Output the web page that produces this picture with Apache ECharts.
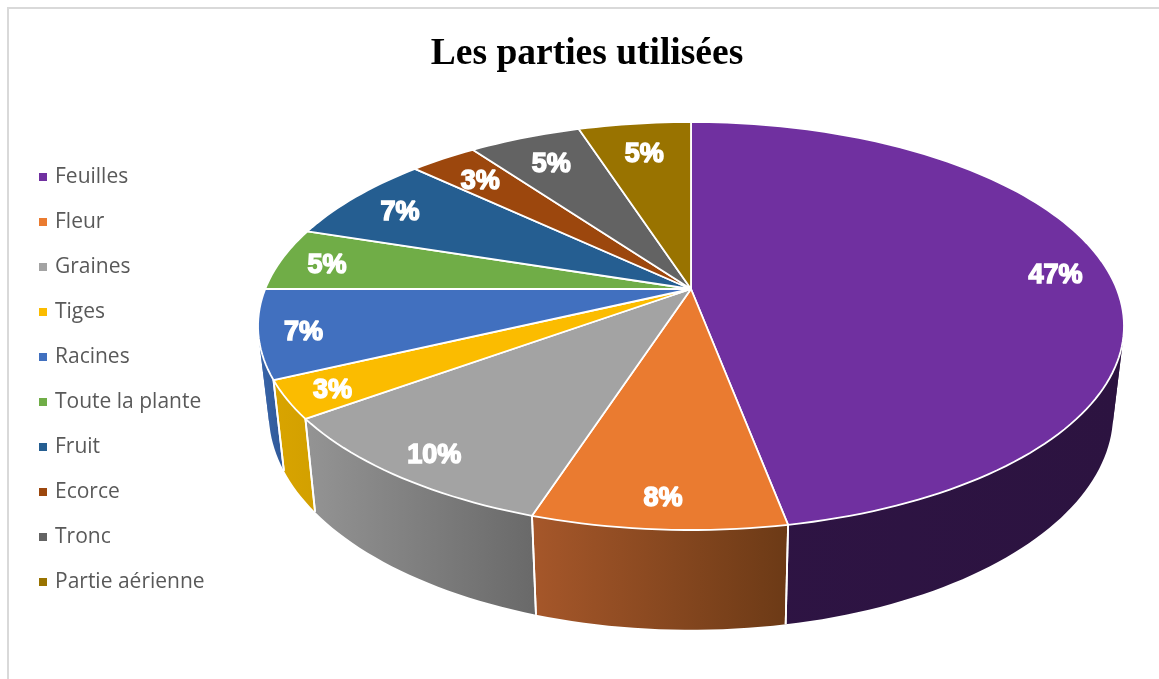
<!DOCTYPE html>
<html lang="fr">
<head>
<meta charset="utf-8">
<title>Les parties utilisées</title>
<style>
  html, body { margin: 0; padding: 0; background: #ffffff; }
  #chart { width: 1159px; height: 679px; }
</style>
<script src="https://cdn.jsdelivr.net/npm/echarts@6/dist/echarts.min.js"></script>
</head>
<body>
<div id="chart"></div>
<script>
// Parts of the plant and their share of uses, in percent.
const categories = ['Feuilles', 'Fleur', 'Graines', 'Tiges', 'Racines', 'Toute la plante', 'Fruit', 'Ecorce', 'Tronc', 'Partie aérienne'];
const shares = [47, 8, 10, 3, 7, 5, 7, 3, 5, 5];
const topColors = ['#7030a0', '#ea7b30', '#a3a3a3', '#fbbc00', '#4170bf', '#70ad47', '#255e91', '#9c470d', '#636363', '#997300'];
// Side-wall shading, left to right as seen by the viewer.
const wallStart = ['#2e1444', '#a6572a', '#949494', '#d9a400', '#3a66aa', '#4e7a31', '#1a4366', '#6e3209', '#464646', '#6b5100'];
const wallEnd = ['#2c1340', '#6c3a16', '#696969', '#d2a000', '#2f5898', '#4e7a31', '#1a4366', '#6e3209', '#464646', '#6b5100'];

// Projection of the tilted disc: unit circle to screen, with the near edge enlarged.
const disc = { cx: 691, cy: 289, a: 425.8, b: 197.3, k: 0.1814 };
// The lower face sits under the upper one, slightly narrower and stretched downwards.
const base = { xScale: 0.975, yScale: 1.06, yShift: 68 };
const arcStep = 0.004;

const total = shares.reduce((s, v) => s + v, 0);
const starts = [];
shares.reduce((sum, v, i) => { starts[i] = sum / total; return sum + v; }, 0);

function project(fraction, radius) {
  const t = fraction * Math.PI * 2;
  const u = Math.sin(t) * radius;
  const v = -Math.cos(t) * radius;
  const d = 1 - disc.k * v;
  return [disc.cx + disc.a * u / d, disc.cy + disc.b * v / d];
}
function lower(p) {
  return [disc.cx + base.xScale * (p[0] - disc.cx), base.yScale * p[1] + base.yShift];
}
function rim(from, to) {
  const pts = [];
  const n = Math.max(2, Math.ceil((to - from) / arcStep));
  for (let i = 0; i <= n; i++) pts.push(project(from + (to - from) * i / n, 1));
  return pts;
}
// Labels sit further in on the far side of the disc, further out on the left.
function labelRadius(fraction) {
  const t = fraction * Math.PI * 2;
  return 0.88 - 0.08 * Math.max(0, Math.cos(t)) + 0.02 * Math.max(0, -Math.sin(t));
}

function topItem(i) {
  return function (params, api) {
    const from = starts[i];
    const to = from + api.value(0) / total;
    const mid = (from + to) / 2;
    const at = project(mid, labelRadius(mid));
    return {
      type: 'group',
      children: [
        {
          type: 'polygon',
          shape: { points: [[disc.cx, disc.cy]].concat(rim(from, to)) },
          style: { fill: topColors[i], stroke: '#ffffff', lineWidth: 1.8, lineJoin: 'round' }
        },
        {
          type: 'text',
          x: at[0], y: at[1] + 3, z2: 5,
          style: {
            text: api.value(0) + '%',
            fill: '#ffffff', stroke: '#ffffff', lineWidth: 1.5,
            font: 'bold 27px "Liberation Sans"',
            align: 'center', verticalAlign: 'middle'
          }
        }
      ]
    };
  };
}

// The wall is cut where the rim turns against the drop direction, so that each
// piece is a simple strip and the silhouette follows the tangent of both rims.
function wallPieces(upper) {
  const pieces = [];
  let piece = [upper[0]];
  let lastSign = 0;
  for (let j = 0; j + 1 < upper.length; j++) {
    const p = upper[j], n = upper[j + 1], q = lower(p);
    const cross = (n[0] - p[0]) * (q[1] - p[1]) - (n[1] - p[1]) * (q[0] - p[0]);
    const sign = Math.sign(cross);
    if (lastSign && sign && sign !== lastSign) {
      pieces.push(piece);
      piece = [p];
    }
    if (sign) lastSign = sign;
    piece.push(n);
  }
  pieces.push(piece);
  return pieces;
}

function wallItem(i) {
  return function (params, api) {
    const from = starts[i];
    const to = from + api.value(0) / total;
    const upper = rim(from, to);
    const xs = upper.map(lower).concat(upper).map(p => p[0]);
    const paint = new echarts.graphic.LinearGradient(Math.min(...xs), 0, Math.max(...xs), 0, [
      { offset: 0, color: wallStart[i] },
      { offset: 1, color: wallEnd[i] }
    ], true);
    const children = wallPieces(upper).map(piece => ({
      type: 'polygon',
      shape: { points: piece.concat(piece.map(lower).reverse()) },
      style: { fill: paint }
    }));
    [upper[0], upper[upper.length - 1]].forEach(p => {
      const q = lower(p);
      children.push({
        type: 'line', z2: 2,
        shape: { x1: p[0], y1: p[1], x2: q[0], y2: q[1] },
        style: { stroke: '#ffffff', lineWidth: 1.8 }
      });
    });
    return { type: 'group', children };
  };
}

const series = [];
categories.forEach((name, i) => {
  series.push({
    type: 'custom', name, coordinateSystem: 'none', z: 3, silent: true,
    itemStyle: { color: topColors[i] },
    data: [[shares[i]]], renderItem: topItem(i)
  });
});
categories.forEach((name, i) => {
  series.push({
    type: 'custom', name, coordinateSystem: 'none', z: 2, silent: true,
    itemStyle: { color: topColors[i] },
    data: [[shares[i]]], renderItem: wallItem(i)
  });
});

const chart = echarts.init(document.getElementById('chart'), null, { renderer: 'canvas' });
chart.setOption({
  backgroundColor: '#ffffff',
  animation: false,
  title: {
    text: 'Les parties utilisées',
    left: 582, top: 30, textAlign: 'center',
    textStyle: { fontFamily: '"Liberation Serif"', fontWeight: 'bold', fontSize: 37.5, color: '#000000' }
  },
  legend: {
    data: categories,
    orient: 'vertical', left: 34, top: 160,
    icon: 'rect', itemWidth: 8, itemHeight: 8, itemGap: 21,
    selectedMode: false, align: 'left',
    textStyle: { fontFamily: '"Open Sans"', fontSize: 21, color: '#595959', lineHeight: 24, padding: [0, 0, 0, 3] }
  },
  graphic: [{
    type: 'polyline', silent: true,
    shape: { points: [[8, 679], [8, 8], [1159, 8]] },
    style: { stroke: '#d9d9d9', lineWidth: 2, fill: null }
  }],
  series
});
</script>
</body>
</html>
